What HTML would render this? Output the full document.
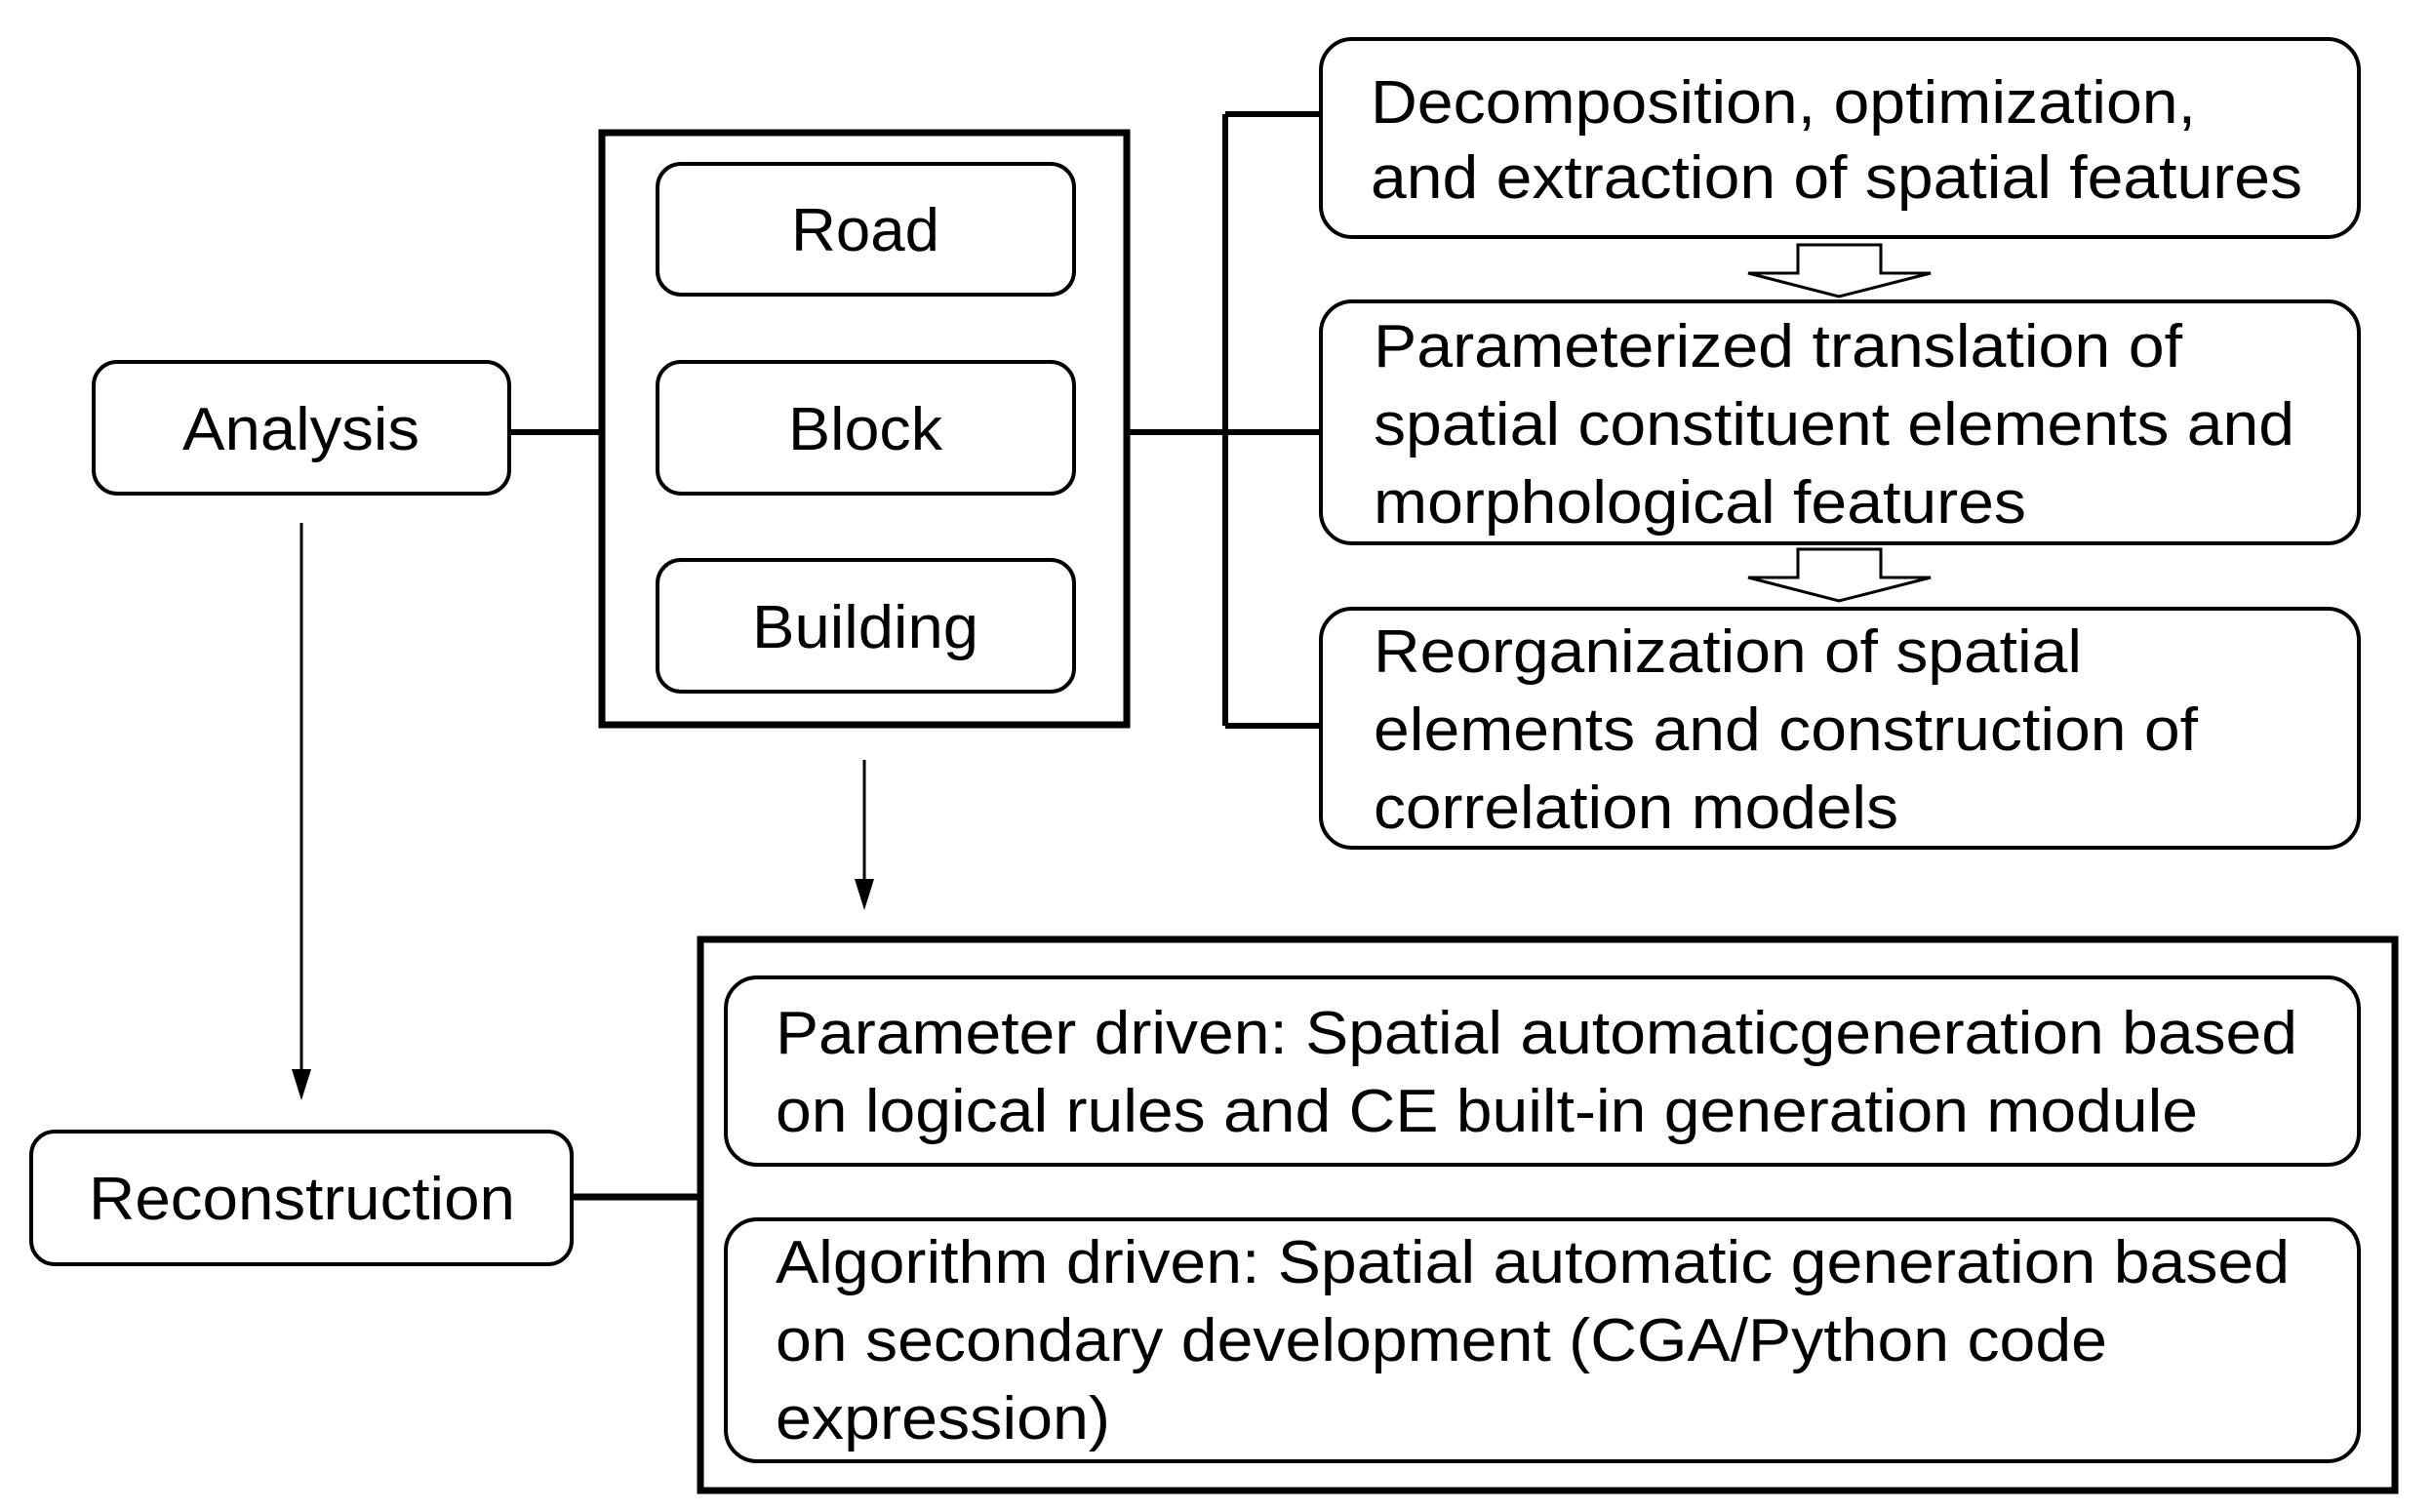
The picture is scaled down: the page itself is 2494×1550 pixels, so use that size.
<!DOCTYPE html>
<html><head><meta charset="utf-8"><style>html,body{margin:0;padding:0;background:#fff}svg{display:block}</style></head><body>
<svg width="2494" height="1550" viewBox="0 0 2494 1550" xmlns="http://www.w3.org/2000/svg" font-family="Liberation Sans, Arial, sans-serif" font-size="62" fill="#000">
<defs><marker id="ah" viewBox="0 0 10 10" refX="10" refY="5" markerWidth="10" markerHeight="12" markerUnits="userSpaceOnUse" orient="auto"><path d="M0,0 L10,5 L0,10 z" fill="#000"/></marker></defs>
<g fill="none" stroke="#000">
<rect x="96" y="371" width="426" height="135" rx="24" stroke-width="4"/>
<rect x="617" y="136" width="538" height="607" stroke-width="7"/>
<rect x="674" y="168" width="427" height="134" rx="24" stroke-width="4"/>
<rect x="674" y="371" width="427" height="135" rx="24" stroke-width="4"/>
<rect x="674" y="574" width="427" height="135" rx="24" stroke-width="4"/>
<path d="M522 443 H617 M1158 443 H1256 M1256 117 V744 M1256 117 H1354 M1256 443 H1354 M1256 744 H1354" stroke-width="6"/>
<rect x="1354" y="40" width="1064" height="203" rx="32" stroke-width="4"/>
<rect x="1354" y="309" width="1064" height="248" rx="32" stroke-width="4"/>
<rect x="1354" y="624" width="1064" height="245" rx="32" stroke-width="4"/>
<path d="M1843 251 H1928 V280 H1979 L1885 304 L1792 280 H1843 Z" stroke-width="3" fill="#fff"/>
<path d="M1843 563 H1928 V592 H1979 L1885 616 L1792 592 H1843 Z" stroke-width="3" fill="#fff"/>
<rect x="32" y="1160" width="554" height="136" rx="24" stroke-width="4"/>
<path d="M586 1227 H715" stroke-width="7"/>
<rect x="718" y="963" width="1737" height="565" stroke-width="7"/>
<rect x="744" y="1002" width="1674" height="192" rx="32" stroke-width="4"/>
<rect x="744" y="1250" width="1674" height="248" rx="32" stroke-width="4"/>
</g>
<path d="M309 536 V1100" stroke="#000" stroke-width="3"/><path d="M299 1096 L319 1096 L309 1128 Z"/>
<path d="M886 779 V905" stroke="#000" stroke-width="3"/><path d="M876 901 L896 901 L886 933 Z"/>
<text x="811" y="257" textLength="152" lengthAdjust="spacingAndGlyphs">Road</text>
<text x="808" y="461" textLength="158" lengthAdjust="spacingAndGlyphs">Block</text>
<text x="771" y="664" textLength="232" lengthAdjust="spacingAndGlyphs">Building</text>
<text x="187" y="461" textLength="243" lengthAdjust="spacingAndGlyphs">Analysis</text>
<text x="91" y="1250" textLength="437" lengthAdjust="spacingAndGlyphs">Reconstruction</text>
<text x="1405" y="126" textLength="846" lengthAdjust="spacingAndGlyphs">Decomposition, optimization,</text>
<text x="1405" y="203" textLength="955" lengthAdjust="spacingAndGlyphs">and extraction of spatial features</text>
<text x="1408" y="376" textLength="829" lengthAdjust="spacingAndGlyphs">Parameterized translation of</text>
<text x="1408" y="456" textLength="944" lengthAdjust="spacingAndGlyphs">spatial constituent elements and</text>
<text x="1408" y="536" textLength="669" lengthAdjust="spacingAndGlyphs">morphological features</text>
<text x="1408" y="689" textLength="726" lengthAdjust="spacingAndGlyphs">Reorganization of spatial</text>
<text x="1408" y="769" textLength="845" lengthAdjust="spacingAndGlyphs">elements and construction of</text>
<text x="1408" y="849" textLength="538" lengthAdjust="spacingAndGlyphs">correlation models</text>
<text x="795" y="1080" textLength="1560" lengthAdjust="spacingAndGlyphs">Parameter driven: Spatial automaticgeneration based</text>
<text x="795" y="1160" textLength="1458" lengthAdjust="spacingAndGlyphs">on logical rules and CE built-in generation module</text>
<text x="795" y="1315" textLength="1552" lengthAdjust="spacingAndGlyphs">Algorithm driven: Spatial automatic generation based</text>
<text x="795" y="1395" textLength="1365" lengthAdjust="spacingAndGlyphs">on secondary development (CGA/Python code</text>
<text x="795" y="1475" textLength="343" lengthAdjust="spacingAndGlyphs">expression)</text>
</svg>
</body></html>
